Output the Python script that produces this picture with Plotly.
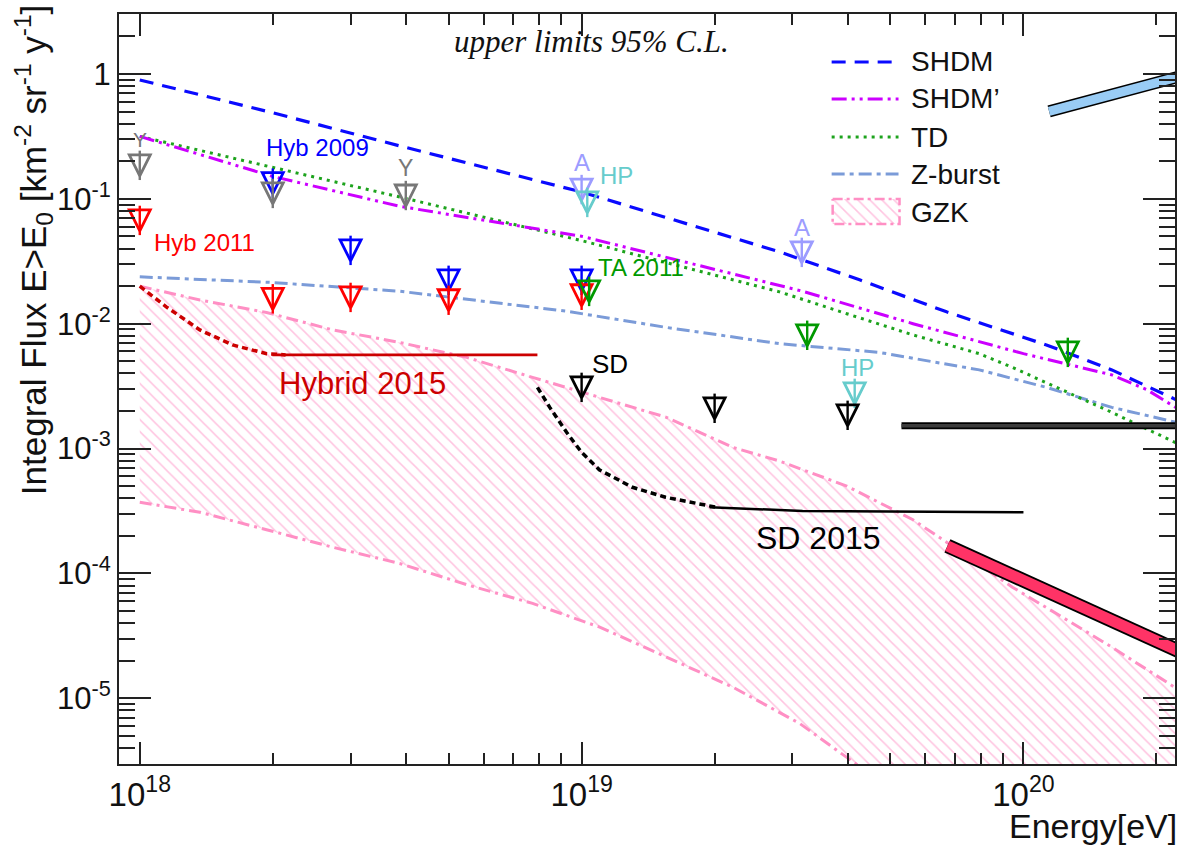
import numpy as np
import plotly.graph_objects as go

SANS = "Liberation Sans"
SERIF = "Liberation Serif"

# ---------------- model predictions: log10(E/eV), log10(flux) ----------------
shdm_lgE = [18.0, 18.3, 18.588, 19.0, 19.448, 19.629, 19.826, 20.052, 20.2, 20.346]
shdm_lgF = [-0.048, -0.31, -0.576, -0.945, -1.425, -1.649, -1.905, -2.17, -2.37, -2.61]

shdmp_lgE = [18.0, 18.3, 18.588, 19.0, 19.25, 19.5, 19.75, 20.0, 20.2, 20.28, 20.346]
shdmp_lgF = [-0.50, -0.82, -1.06, -1.30, -1.52, -1.74, -2.00, -2.24, -2.41, -2.53, -2.674]

td_lgE = [18.0, 18.3, 18.588, 19.0, 19.448, 19.6, 19.75, 19.9, 19.975, 20.1, 20.2, 20.346]
td_lgF = [-0.50, -0.745, -0.985, -1.335, -1.745, -1.92, -2.09, -2.24, -2.35, -2.55, -2.71, -2.955]

zb_lgE = [18.0, 18.3, 18.588, 18.966, 19.192, 19.448, 19.674, 19.9, 20.052, 20.2, 20.346]
zb_lgF = [-1.625, -1.67, -1.74, -1.90, -2.03, -2.16, -2.23, -2.37, -2.51, -2.67, -2.79]

gzk_hi_lgE = [18.0, 18.136, 18.287, 18.437, 18.588, 18.74, 18.889, 19.041, 19.192,
              19.342, 19.448, 19.6, 19.75, 19.826, 19.975, 20.088, 20.2, 20.346]
gzk_hi_lgF = [-1.70, -1.81, -1.91, -2.05, -2.15, -2.27, -2.43, -2.59, -2.75,
              -2.99, -3.10, -3.30, -3.57, -3.75, -4.11, -4.35, -4.59, -4.92]
gzk_lo_lgE = [18.0, 18.136, 18.287, 18.437, 18.588, 18.74, 18.889, 19.041, 19.192,
              19.342, 19.493, 19.6, 19.65]
gzk_lo_lgF = [-3.43, -3.51, -3.65, -3.79, -3.92, -4.09, -4.24, -4.43, -4.67,
              -4.91, -5.20, -5.47, -5.60]

# ---------------- 2015 exposure-based limits ----------------
hyb15_dash_lgE = [18.0, 18.06, 18.136, 18.21, 18.287, 18.33]
hyb15_dash_lgF = [-1.70, -1.865, -2.05, -2.17, -2.24, -2.25]
hyb15_lgE = [18.3, 18.9]
hyb15_lgF = [-2.25, -2.25]

sd15_dash_lgE = [18.9, 18.928, 18.966, 19.0, 19.04, 19.115, 19.19, 19.305]
sd15_dash_lgF = [-2.51, -2.67, -2.87, -3.03, -3.17, -3.31, -3.39, -3.47]
sd15_lgE = [19.29, 19.5, 20.0]
sd15_lgF = [-3.47, -3.50, -3.51]

# ---------------- upper limits (E in eV, flux in km^-2 sr^-1 y^-1) ----------------
y_E = [1e18, 2e18, 4e18]
y_F = [0.225, 0.134, 0.129]
hyb09_E = [2e18, 3e18, 5e18, 1e19]
hyb09_F = [0.162, 0.0469, 0.0270, 0.0270]
hyb11_E = [1e18, 2e18, 3e18, 5e18, 1e19]
hyb11_F = [0.0815, 0.0192, 0.0197, 0.0187, 0.0205]
a_E = [1e19, 3.15e19]
a_F = [0.144, 0.0452]
hp_E = [1.03e19, 4.15e19]
hp_F = [0.1135, 0.00336]
ta_E = [1.04e19, 3.24e19, 1.26e20]
ta_F = [0.0220, 0.0098, 0.00715]
sd_E = [1e19, 2e19, 4e19]
sd_F = [0.00375, 0.00255, 0.00224]

# ---------------- projected sensitivity bars: log10 E, log10 flux ----------------
bar_blue_lgE = [20.058, 20.35]
bar_blue_lgF = [-0.30, -0.024]
bar_black_lgE = [19.724, 20.35]
bar_black_lgF = [-2.818, -2.818]
bar_red_lgE = [19.828, 20.35]
bar_red_lgF = [-3.78, -4.618]

X_RANGE = [17.953, 20.343]
Y_RANGE = [-5.526, 0.480]

# plot-area geometry in pixels (for legend / free text placement)
W, H = 1179, 847
ML, MR, MT, MB = 119, 2, 14, 83
PW, PH = W - ML - MR, H - MT - MB


def px_x(px):
    return (px - ML) / PW


def px_y(py):
    return (H - MB - py) / PH


def p10(v):
    return np.power(10.0, np.asarray(v, dtype=float))


C_SHDM = "#0a0aff"
C_SHDMP = "#cc00ff"
C_TD = "#1da31d"
C_ZB = "#7b9bd8"
C_GZK = "#ff8fc4"
C_HATCH = "#ff8ac2"
C_HYB15 = "#cc0000"

D_SHDM = "14px,9px"
D_SHDMP = "15px,5px,3px,5px,3px,5px"
D_TD = "3px,5px"
D_ZB = "13px,5px,4px,5px"
D_GZK = "12px,5px,3px,5px"

HATCH = dict(shape="\\", fgcolor=C_HATCH, size=8.5, solidity=0.18)

fig = go.Figure()

# GZK band: hatched region between upper and lower expectation
band_x = list(gzk_hi_lgE) + [20.36, 20.36] + list(gzk_lo_lgE[::-1])
band_y = list(gzk_hi_lgF) + [gzk_hi_lgF[-1], -5.6] + list(gzk_lo_lgF[::-1])
fig.add_trace(go.Scatter(
    x=p10(band_x), y=p10(band_y), mode="lines", fill="toself",
    line=dict(width=0, color="rgba(0,0,0,0)"),
    fillcolor="rgba(0,0,0,0)", fillpattern=HATCH,
    showlegend=False, hoverinfo="skip"))
for xs, ys in [(gzk_hi_lgE, gzk_hi_lgF), (gzk_lo_lgE, gzk_lo_lgF)]:
    fig.add_trace(go.Scatter(x=p10(xs), y=p10(ys), mode="lines",
                             line=dict(color=C_GZK, width=3, dash=D_GZK),
                             showlegend=False))

# model lines
fig.add_trace(go.Scatter(x=p10(zb_lgE), y=p10(zb_lgF), mode="lines",
                         line=dict(color=C_ZB, width=3, dash=D_ZB), showlegend=False))
fig.add_trace(go.Scatter(x=p10(td_lgE), y=p10(td_lgF), mode="lines",
                         line=dict(color=C_TD, width=3, dash=D_TD), showlegend=False))
fig.add_trace(go.Scatter(x=p10(shdmp_lgE), y=p10(shdmp_lgF), mode="lines",
                         line=dict(color=C_SHDMP, width=3, dash=D_SHDMP), showlegend=False))
fig.add_trace(go.Scatter(x=p10(shdm_lgE), y=p10(shdm_lgF), mode="lines",
                         line=dict(color=C_SHDM, width=3.2, dash=D_SHDM), showlegend=False))

# 2015 limits
fig.add_trace(go.Scatter(x=p10(hyb15_dash_lgE), y=p10(hyb15_dash_lgF), mode="lines",
                         line=dict(color=C_HYB15, width=3.5, dash="6px,4px"), showlegend=False))
fig.add_trace(go.Scatter(x=p10(hyb15_lgE), y=p10(hyb15_lgF), mode="lines",
                         line=dict(color=C_HYB15, width=2.8), showlegend=False))
fig.add_trace(go.Scatter(x=p10(sd15_dash_lgE), y=p10(sd15_dash_lgF), mode="lines",
                         line=dict(color="#000000", width=3.5, dash="6px,4px"), showlegend=False))
fig.add_trace(go.Scatter(x=p10(sd15_lgE), y=p10(sd15_lgF), mode="lines",
                         line=dict(color="#000000", width=2.5), showlegend=False))

# upper-limit arrows: the open head hangs below the limit value, with a stem
ARROW = 21


def add_limits(E, F, color):
    fig.add_trace(go.Scatter(
        x=E, y=F, mode="markers", showlegend=False,
        marker=dict(symbol="arrow-down-open", size=ARROW, color=color, standoff=ARROW,
                    line=dict(color=color, width=2.8))))
    fig.add_trace(go.Scatter(
        x=E, y=F, mode="markers", showlegend=False,
        marker=dict(symbol="line-ns-open", size=ARROW, color=color, standoff=ARROW / 2,
                    line=dict(color=color, width=2.4))))


add_limits(hyb09_E, hyb09_F, "#0000ff")
add_limits(y_E, y_F, "#777777")
add_limits(hyb11_E, hyb11_F, "#ff0000")
add_limits(a_E, a_F, "#9c9cff")
add_limits(hp_E, hp_F, "#66cccc")
add_limits(ta_E, ta_F, "#009900")
add_limits(sd_E, sd_F, "#000000")

# projected sensitivity bars
for xs, ys, col, wo, wi in [(bar_blue_lgE, bar_blue_lgF, "#99ccf5", 12, 9),
                            (bar_black_lgE, bar_black_lgF, "#3c3c3c", 7, 3.5),
                            (bar_red_lgE, bar_red_lgF, "#ff3366", 14.5, 11)]:
    fig.add_trace(go.Scatter(x=p10(xs), y=p10(ys), mode="lines",
                             line=dict(color="#000000", width=wo), showlegend=False))
    fig.add_trace(go.Scatter(x=p10(xs), y=p10(ys), mode="lines",
                             line=dict(color=col, width=wi), showlegend=False))

# ---------------- legend drawn on an overlay paper-like axis ----------------
leg_items = [("SHDM", C_SHDM, D_SHDM, 62), ("SHDM\u2019", C_SHDMP, D_SHDMP, 99),
             ("TD", C_TD, D_TD, 137), ("Z-burst", C_ZB, D_ZB, 174)]
for name, col, dash, py in leg_items:
    fig.add_trace(go.Scatter(x=[px_x(833), px_x(900)], y=[px_y(py), px_y(py)],
                             xaxis="x2", yaxis="y2", mode="lines",
                             line=dict(color=col, width=3.2, dash=dash),
                             showlegend=False, hoverinfo="skip"))
bx0, bx1, by0, by1 = px_x(834), px_x(901), px_y(199), px_y(224)
fig.add_trace(go.Scatter(x=[bx0, bx1, bx1, bx0, bx0], y=[by0, by0, by1, by1, by0],
                         xaxis="x2", yaxis="y2", mode="lines", fill="toself",
                         fillcolor="rgba(0,0,0,0)", fillpattern=HATCH,
                         line=dict(color=C_GZK, width=2.5, dash="10px,4px,3px,4px"),
                         showlegend=False, hoverinfo="skip"))

annotations = []
for name, py in [("SHDM", 62), ("SHDM\u2019", 99), ("TD", 137), ("Z-burst", 174), ("GZK", 212)]:
    annotations.append(dict(x=px_x(910), y=px_y(py), xref="paper", yref="paper",
                            text=name, showarrow=False, xanchor="left", yanchor="middle",
                            font=dict(family=SANS, size=28, color="#111111")))

# labels placed at (E [eV], flux)
labels = [
    ("Y", 1.0e18, 0.296, "#777777", 21),
    ("Y", 3.99e18, 0.177, "#777777", 23),
    ("Hyb 2009", 2.52e18, 0.256, "#0000ff", 24),
    ("Hyb 2011", 1.40e18, 0.0444, "#ff0000", 24),
    ("A", 1.0e19, 0.194, "#9c9cff", 24),
    ("HP", 1.20e19, 0.153, "#66cccc", 24),
    ("A", 3.15e19, 0.0585, "#9c9cff", 24),
    ("HP", 4.22e19, 0.0045, "#66cccc", 24),
    ("TA 2011", 1.36e19, 0.028, "#009900", 24),
    ("SD", 1.16e19, 0.00476, "#000000", 26),
    ("Hybrid 2015", 3.19e18, 0.0033, C_HYB15, 31),
    ("SD 2015", 3.44e19, 1.93e-4, "#000000", 32),
]
for txt, e, f, col, fs in labels:
    annotations.append(dict(x=np.log10(e), y=np.log10(f), xref="x", yref="y",
                            text=txt, showarrow=False, xanchor="center", yanchor="middle",
                            font=dict(family=SANS, size=fs, color=col)))

annotations.append(dict(x=px_x(592), y=px_y(41), xref="paper", yref="paper",
                        text="<i>upper limits 95% C.L.</i>", showarrow=False,
                        xanchor="center", yanchor="middle",
                        font=dict(family=SERIF, size=31, color="#111111")))
annotations.append(dict(x=px_x(33), y=px_y(3), xref="paper", yref="paper",
                        text="Integral Flux E>E<sub>0</sub> [km<sup>-2</sup> sr<sup>-1</sup> y<sup>-1</sup>]",
                        textangle=-90, showarrow=False, xanchor="center", yanchor="top",
                        font=dict(family=SANS, size=35, color="#111111")))
annotations.append(dict(x=px_x(1181), y=px_y(826), xref="paper", yref="paper",
                        text="Energy[eV]", showarrow=False, xanchor="right", yanchor="middle",
                        font=dict(family=SANS, size=34, color="#111111")))

x_major = [1e18, 1e19, 1e20]
x_major_text = ["10<sup>18</sup>", "10<sup>19</sup>", "10<sup>20</sup>"]
x_minor = [k * 10.0 ** n for n in (17, 18, 19, 20) for k in range(2, 10)]
y_major = [1.0, 1e-1, 1e-2, 1e-3, 1e-4, 1e-5]
y_major_text = ["1", "10<sup>-1</sup>", "10<sup>-2</sup>", "10<sup>-3</sup>",
                "10<sup>-4</sup>", "10<sup>-5</sup>"]
y_minor = [k * 10.0 ** n for n in range(-6, 1) for k in range(2, 10)]

fig.update_layout(
    width=W, height=H,
    margin=dict(l=ML, r=MR, t=MT, b=MB, pad=0),
    paper_bgcolor="white", plot_bgcolor="white",
    showlegend=False,
    annotations=annotations,
    xaxis=dict(type="log", range=X_RANGE, showgrid=False, zeroline=False,
               showline=True, linecolor="#222222", linewidth=2, mirror="ticks",
               ticks="inside", ticklen=22, tickwidth=2, tickcolor="#222222",
               tickmode="array", tickvals=x_major, ticktext=x_major_text,
               tickfont=dict(family=SANS, size=33, color="#111111"),
               minor=dict(ticks="inside", ticklen=11, tickwidth=2, tickcolor="#222222",
                          tickmode="array", tickvals=x_minor, showgrid=False)),
    yaxis=dict(type="log", range=Y_RANGE, showgrid=False, zeroline=False,
               showline=True, linecolor="#222222", linewidth=2, mirror="ticks",
               ticks="inside", ticklen=32, tickwidth=2, tickcolor="#222222",
               tickmode="array", tickvals=y_major, ticktext=y_major_text,
               tickfont=dict(family=SANS, size=31, color="#111111"),
               minor=dict(ticks="inside", ticklen=16, tickwidth=2, tickcolor="#222222",
                          tickmode="array", tickvals=y_minor, showgrid=False)),
    xaxis2=dict(domain=[0, 1], range=[0, 1], overlaying="x", visible=False, fixedrange=True),
    yaxis2=dict(domain=[0, 1], range=[0, 1], overlaying="y", visible=False, fixedrange=True),
)

fig.write_html("out.html")
